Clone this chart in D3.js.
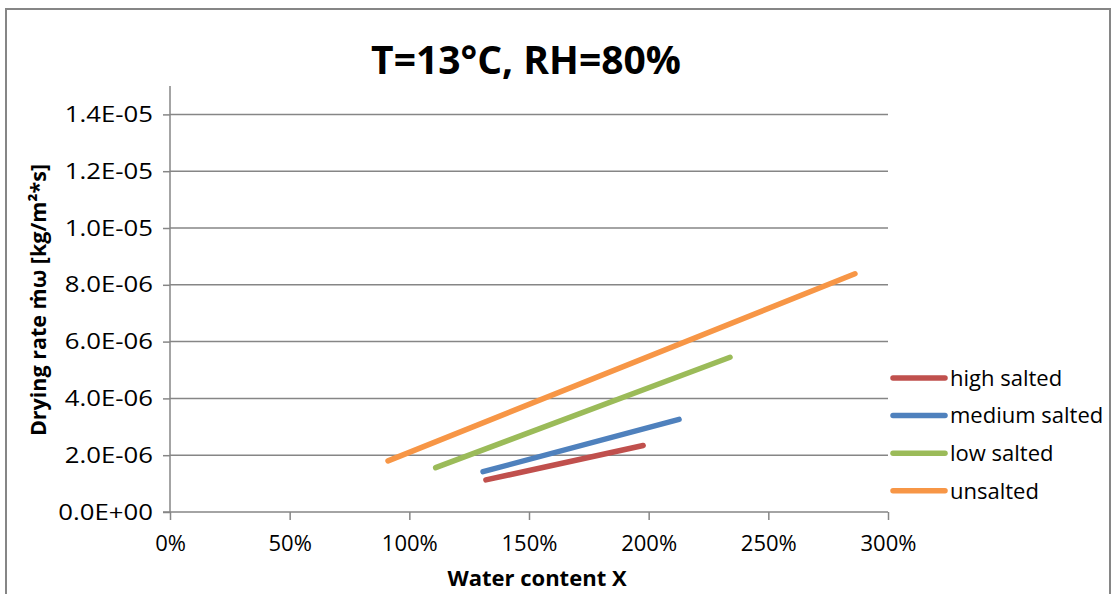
<!DOCTYPE html>
<html>
<head>
<meta charset="utf-8">
<script src="https://cdn.jsdelivr.net/npm/d3@7"></script>
<style>
  body { margin: 0; background: #fff; }
  svg text { font-family: "Open Sans", Lato, sans-serif; fill: #000; }
</style>
</head>
<body>
<div class="chart"></div>
<script>
// series: water content (fraction) vs drying rate
const seriesNames = ['high salted', 'medium salted', 'low salted', 'unsalted']
const seriesColors = ['#C0504D', '#4F81BD', '#9BBB59', '#F79646']
const highSalted = [[1.32, 1.13e-6], [1.977, 2.34e-6]]
const mediumSalted = [[1.308, 1.42e-6], [2.127, 3.26e-6]]
const lowSalted = [[1.11, 1.56e-6], [2.34, 5.45e-6]]
const unsalted = [[0.911, 1.8e-6], [2.862, 8.39e-6]]
const xTicks = [0, 0.5, 1, 1.5, 2, 2.5, 3]
const yTicks = [0, 2e-6, 4e-6, 6e-6, 8e-6, 1e-5, 1.2e-5, 1.4e-5]

const width = 1112
const height = 594

const svg = d3.select('.chart').append('svg')
  .attr('width', width)
  .attr('height', height)

// outer chart border
svg.append('rect')
  .attr('x', 6).attr('y', 9)
  .attr('width', 1104).attr('height', 600)
  .attr('fill', 'none')
  .attr('stroke', '#868686')
  .attr('stroke-width', 2)

const x = d3.scaleLinear().domain([0, 3]).range([170, 888])
const y = d3.scaleLinear().domain([0, 1.5e-5]).range([512, 86])

// gridlines
svg.append('g')
  .selectAll('line')
  .data(yTicks.slice(1))
  .join('line')
    .attr('x1', x(0)).attr('x2', x(3))
    .attr('y1', d => y(d)).attr('y2', d => y(d))
    .attr('stroke', '#868686')
    .attr('stroke-width', 1.5)

const yAxis = svg.append('g')
  .attr('transform', `translate(${x(0)},0)`)
  .call(d3.axisLeft(y).tickValues(yTicks).tickSize(7).tickPadding(9)
    .tickFormat(d => d.toExponential(1).toUpperCase().replace(/E([+-])(\d)$/, 'E$10$2')))
yAxis.select('.domain').attr('stroke', '#868686').attr('stroke-width', 1.5)
  .attr('d', `M0,${y(1.5e-5)}V${y(0)}`)
yAxis.selectAll('.tick line').attr('stroke', '#868686').attr('stroke-width', 1.5)
// the labels in the original are drawn a little wider than the font
yAxis.selectAll('.tick text')
  .attr('x', 0)
  .attr('transform', 'translate(-17,0) scale(1.17,1)')
  .style('font-size', '22px').attr('fill', '#000')

const xAxis = svg.append('g')
  .attr('transform', `translate(0,${y(0)})`)
  .call(d3.axisBottom(x).tickValues(xTicks).tickSize(8).tickPadding(15)
    .tickFormat(d3.format('.0%')))
xAxis.select('.domain').attr('stroke', '#868686').attr('stroke-width', 1.5)
  .attr('d', `M${x(0) - 7},0H${x(3)}`)
xAxis.selectAll('.tick line').attr('stroke', '#868686').attr('stroke-width', 1.5)
xAxis.selectAll('.tick text').style('font-size', '22px').attr('fill', '#000')

// data lines
const allSeries = [highSalted, mediumSalted, lowSalted, unsalted]
const line = d3.line().x(d => x(d[0])).y(d => y(d[1]))

svg.append('g')
  .selectAll('path')
  .data(allSeries)
  .join('path')
    .attr('d', line)
    .attr('fill', 'none')
    .attr('stroke', (d, i) => seriesColors[i])
    .attr('stroke-width', 5.5)
    .attr('stroke-linecap', 'round')

// legend
const legend = svg.append('g')
  .selectAll('g')
  .data(seriesNames)
  .join('g')
    .attr('transform', (d, i) => `translate(893,${378 + i * 37.6})`)
legend.append('line')
  .attr('x1', 0).attr('x2', 52)
  .attr('stroke', (d, i) => seriesColors[i])
  .attr('stroke-width', 5.5)
  .attr('stroke-linecap', 'round')
legend.append('text')
  .attr('x', 57).attr('dy', '0.35em')
  .style('font-size', '22px')
  .text(d => d)

// title and axis titles
svg.append('text')
  .attr('x', 526).attr('y', 74)
  .attr('text-anchor', 'middle')
  .style('font-size', '39px').style('font-weight', 'bold')
  .text('T=13°C, RH=80%')

svg.append('text')
  .attr('x', 537).attr('y', 586)
  .attr('text-anchor', 'middle')
  .style('font-size', '22px').style('font-weight', 'bold')
  .text('Water content X')

svg.append('text')
  .attr('transform', 'translate(46,300) rotate(-90)')
  .attr('text-anchor', 'middle')
  .style('font-size', '21.5px').style('font-weight', 'bold')
  .text('Drying rate ṁω [kg/m²*s]')
</script>
</body>
</html>
